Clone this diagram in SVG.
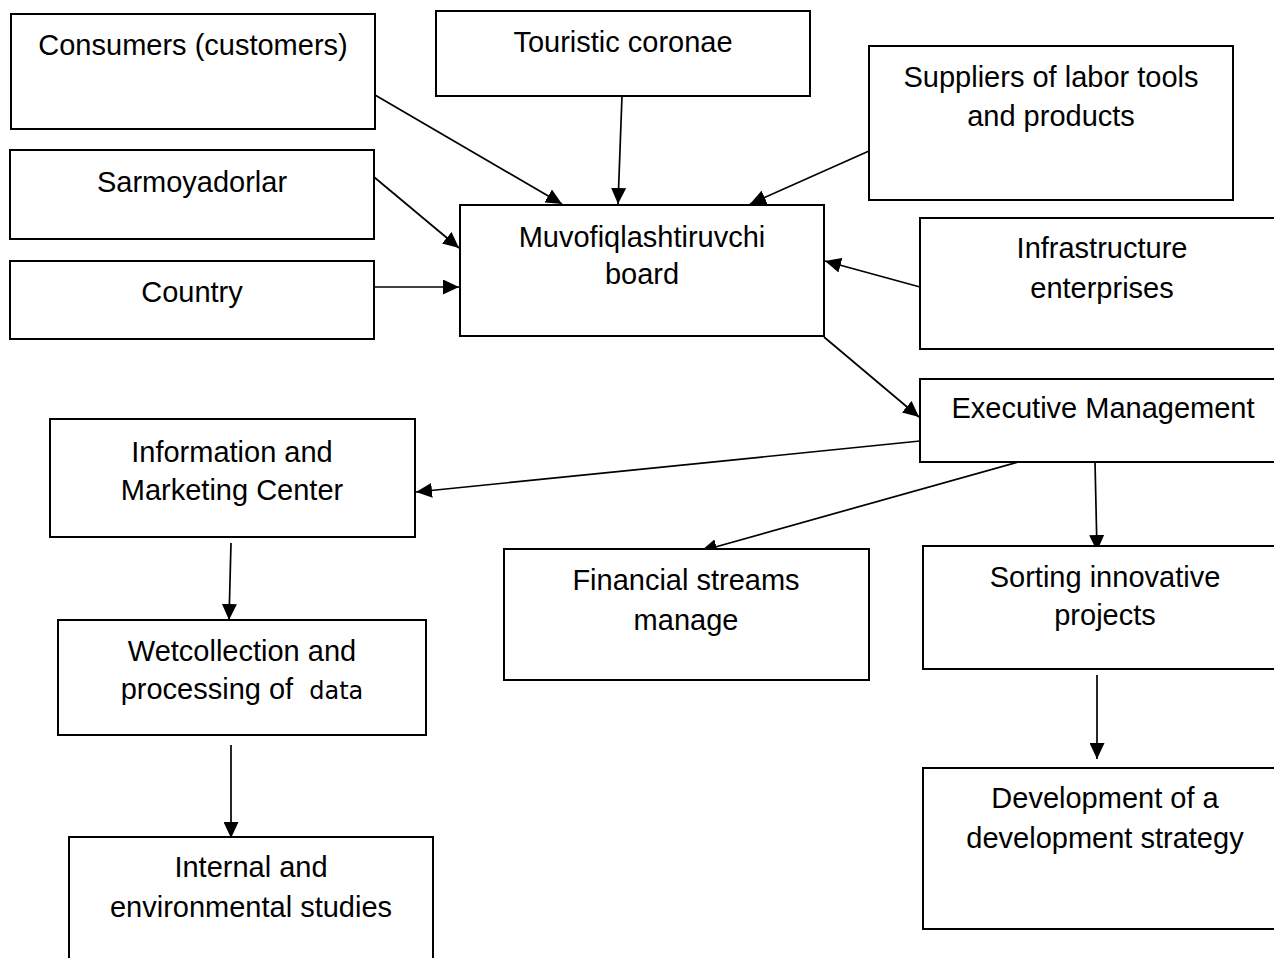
<svg xmlns="http://www.w3.org/2000/svg" width="1274" height="958" viewBox="0 0 1274 958">
<defs>
<marker id="arr" markerUnits="userSpaceOnUse" markerWidth="16" markerHeight="15" refX="16" refY="7.5" orient="auto">
<path d="M0,0 L16,7.5 L0,15 z" fill="#000"/>
</marker>
<style>
.box{fill:#fff;stroke:#000;stroke-width:2}
.t{font-family:"Liberation Sans",Arial,sans-serif;font-size:29px;fill:#000;text-anchor:middle}
.c{stroke:#000;stroke-width:1.7;fill:none;marker-end:url(#arr)}
</style>
</defs>
<rect width="1274" height="958" fill="#fff"/>
<g id="connectors">
<line class="c" x1="375" y1="95" x2="562" y2="204"/>
<line class="c" x1="622" y1="96" x2="618" y2="204"/>
<line class="c" x1="869" y1="151" x2="750" y2="204"/>
<line class="c" x1="374" y1="177" x2="459" y2="248"/>
<line class="c" x1="374" y1="287" x2="459" y2="287"/>
<line class="c" x1="920" y1="287" x2="825" y2="261"/>
<line class="c" x1="824" y1="337" x2="919" y2="417"/>
<line class="c" x1="920" y1="441" x2="416" y2="492"/>
<line class="c" x1="1018" y1="462" x2="701" y2="551"/>
<line class="c" x1="1095" y1="462" x2="1097" y2="551"/>
<line class="c" x1="1097" y1="675" x2="1097" y2="759"/>
<line class="c" x1="231" y1="543" x2="229" y2="620"/>
<line class="c" x1="231" y1="745" x2="231" y2="838"/>
</g>
<g id="consumers"><rect class="box" x="11" y="14" width="364" height="115"/><text class="t" x="193" y="55">Consumers (customers)</text></g>
<g id="touristic"><rect class="box" x="436" y="11" width="374" height="85"/><text class="t" x="623" y="52">Touristic coronae</text></g>
<g id="suppliers"><rect class="box" x="869" y="46" width="364" height="154"/><text class="t" x="1051" y="87">Suppliers of labor tools</text><text class="t" x="1051" y="126">and products</text></g>
<g id="sarmoyadorlar"><rect class="box" x="10" y="150" width="364" height="89"/><text class="t" x="192" y="192">Sarmoyadorlar</text></g>
<g id="country"><rect class="box" x="10" y="261" width="364" height="78"/><text class="t" x="192" y="302">Country</text></g>
<g id="board"><rect class="box" x="460" y="205" width="364" height="131"/><text class="t" x="642" y="247">Muvofiqlashtiruvchi</text><text class="t" x="642" y="284">board</text></g>
<g id="infrastructure"><rect class="box" x="920" y="218" width="366" height="131"/><text class="t" x="1102" y="258">Infrastructure</text><text class="t" x="1102" y="298">enterprises</text></g>
<g id="executive"><rect class="box" x="920" y="379" width="366" height="83"/><text class="t" x="1103" y="418">Executive Management</text></g>
<g id="information"><rect class="box" x="50" y="419" width="365" height="118"/><text class="t" x="232" y="462">Information and</text><text class="t" x="232" y="500">Marketing Center</text></g>
<g id="financial"><rect class="box" x="504" y="549" width="365" height="131"/><text class="t" x="686" y="590">Financial streams</text><text class="t" x="686" y="630">manage</text></g>
<g id="sorting"><rect class="box" x="923" y="546" width="363" height="123"/><text class="t" x="1105" y="587">Sorting innovative</text><text class="t" x="1105" y="625">projects</text></g>
<g id="wetcollection"><rect class="box" x="58" y="620" width="368" height="115"/><text class="t" x="242" y="661">Wetcollection and</text><text class="t" x="242" y="699">processing of <tspan dx="8" font-family="'DejaVu Sans',Verdana,sans-serif" font-size="24">data</tspan></text></g>
<g id="development"><rect class="box" x="923" y="768" width="363" height="161"/><text class="t" x="1105" y="808">Development of a</text><text class="t" x="1105" y="848">development strategy</text></g>
<g id="internal"><rect class="box" x="69" y="837" width="364" height="132"/><text class="t" x="251" y="877">Internal and</text><text class="t" x="251" y="917">environmental studies</text></g>
</svg>
